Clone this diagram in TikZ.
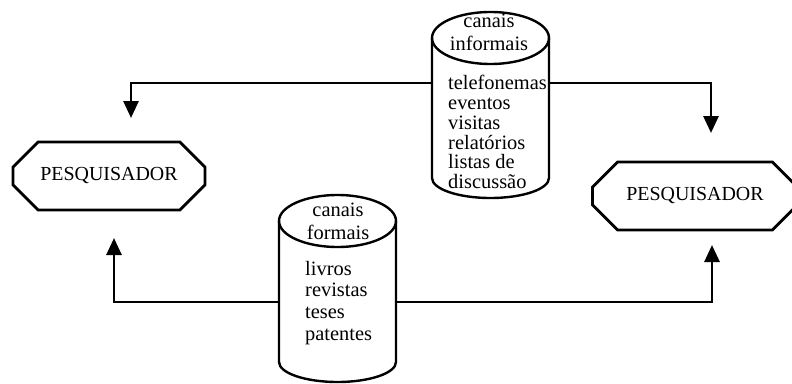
\documentclass[tikz,border=0pt]{standalone}
\usepackage{fontspec}
\setmainfont{Liberation Serif}
\usetikzlibrary{shapes.misc,arrows.meta}
\begin{document}
\begin{tikzpicture}[x=1bp,y=1bp,
  pesq/.style={chamfered rectangle, draw, line width=2.8bp,
    chamfered rectangle xsep=20bp, chamfered rectangle ysep=17bp,
    minimum height=68bp, inner sep=0pt, font=\fontsize{20}{20}\selectfont},
  cyl/.style={line width=2.4bp},
  conn/.style={line width=2.8bp, -{Triangle[width=15bp,length=17bp]}},
  lbl/.style={inner sep=0pt, align=center},
  body/.style={inner sep=0pt, align=left, anchor=west}]
\useasboundingbox (0,0) rectangle (792,383);
% researchers
\node[pesq, minimum width=192bp] (pesqL) at (109,207) {PESQUISADOR};
\node[pesq, minimum width=205bp] (pesqR) at (695,187) {PESQUISADOR};
% informal channels cylinder
\draw[cyl] (490.5,345) ellipse [x radius=58.5bp, y radius=26bp];
\draw[cyl] (432,345) -- (432,205)
  arc[start angle=180, end angle=360, x radius=58.5bp, y radius=20bp]
  -- (549,345);
\node[lbl, font=\fontsize{20.5}{23}\selectfont] (infT) at (489,350.5) {canais\\informais};
\node[body, font=\fontsize{20.5}{20}\selectfont] (infB) at (448,251)
  {telefonemas\\eventos\\visitas\\relatórios\\listas de\\discussão};
% formal channels cylinder
\draw[cyl] (337.5,162) ellipse [x radius=58.5bp, y radius=26bp];
\draw[cyl] (279,162) -- (279,21)
  arc[start angle=180, end angle=360, x radius=58.5bp, y radius=20bp]
  -- (396,162);
\node[lbl, font=\fontsize{20.5}{23}\selectfont] (forT) at (338,161.5) {canais\\formais};
\node[body, font=\fontsize{20.5}{22}\selectfont] (forB) at (305,80)
  {livros\\revistas\\teses\\patentes};
% connector anchors
\coordinate (infL) at (432,300);
\coordinate (infR) at (549,300);
\coordinate (forL) at (279,81);
\coordinate (forR) at (396,81);
\coordinate (tipTL) at (131,265);
\coordinate (tipTR) at (711,250);
\coordinate (tipBL) at (114,145);
\coordinate (tipBR) at (712,138);
\draw[conn] (infL) -| (tipTL);
\draw[conn] (infR) -| (tipTR);
\draw[conn] (forL) -| (tipBL);
\draw[conn] (forR) -| (tipBR);
\end{tikzpicture}
\end{document}
